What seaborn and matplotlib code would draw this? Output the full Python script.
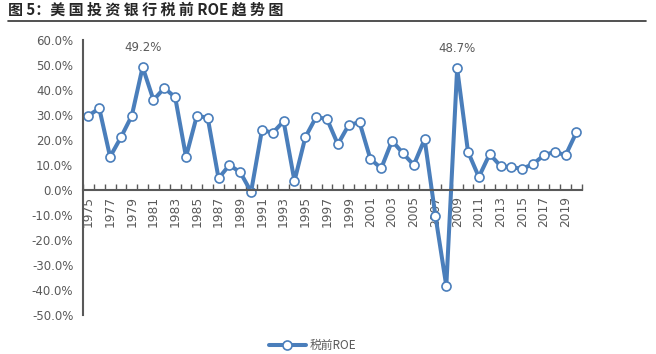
import numpy as np
import pandas as pd
import matplotlib
matplotlib.use("Agg")
import matplotlib.pyplot as plt
import seaborn as sns
from matplotlib.lines import Line2D
from matplotlib.ticker import FuncFormatter, MultipleLocator

# data
years = list(range(1975, 2021))
roe = [29.7, 32.7, 13.3, 21.1, 29.7, 49.2, 36.0, 40.8, 37.1, 13.3,
       29.7, 28.9, 4.7, 10.0, 7.1, -0.7, 24.0, 22.9, 27.5, 3.6,
       21.1, 29.2, 28.4, 18.3, 26.0, 27.1, 12.4, 8.7, 19.7, 14.7,
       10.0, 20.3, -10.4, -38.4, 48.7, 15.3, 5.2, 14.4, 9.6, 9.1,
       8.5, 10.4, 13.9, 15.3, 13.9, 23.1]
labelled_years = [1980, 2009]
series_name = "税前ROE"
title = "图 5：美 国 投 资 银 行 税 前 ROE 趋 势 图"

df = pd.DataFrame({"year": years, "roe": np.array(roe) / 100})

sns.set_style("white")
plt.rcParams["font.family"] = ["DejaVu Sans", "Noto Sans CJK SC"]

blue = "#4A7EBB"
grey = "#595959"

fig = plt.figure(figsize=(6.56, 3.54), dpi=100)
ax = fig.add_axes([0.1265, 0.110, 0.7605, 0.777])

sns.lineplot(data=df, x="year", y="roe", ax=ax, color=blue, linewidth=2.9,
             marker="o", markersize=6.5, markerfacecolor="white",
             markeredgecolor=blue, markeredgewidth=1.2, label=series_name)

ax.set_xlim(years[0] - 0.5, years[-1] + 0.5)
ax.set_ylim(-0.5, 0.6)
ax.yaxis.set_major_locator(MultipleLocator(0.1))
ax.yaxis.set_major_formatter(FuncFormatter(lambda v, p: f"{v * 100:.1f}%"))
ax.tick_params(axis="y", direction="out", length=4, width=1, color=grey,
               labelsize=8.5, labelcolor=grey, pad=3)

ax.set_xticks(years[::2])
ax.set_xticks(np.arange(years[0] - 0.5, years[-1] + 1.0, 1.0), minor=True)
ax.tick_params(axis="x", which="major", length=0, labelsize=8.8,
               labelcolor=grey, pad=4, labelrotation=90)
ax.tick_params(axis="x", which="minor", direction="in", length=4, width=1,
               color=grey, bottom=True)
for lab in ax.get_xticklabels():
    lab.set_va("top")
    lab.set_ha("center")

ax.spines["bottom"].set_position(("data", 0))
for s in ["top", "right"]:
    ax.spines[s].set_visible(False)
ax.spines["left"].set_color(grey)
ax.spines["bottom"].set_color(grey)
ax.spines["left"].set_linewidth(1.5)
ax.spines["bottom"].set_linewidth(1.5)
ax.set_xlabel("")
ax.set_ylabel("")

for y in labelled_years:
    v = roe[years.index(y)]
    ax.annotate(f"{v:.1f}%", xy=(y, v / 100), xytext=(0, 14),
                textcoords="offset points", ha="center", va="center",
                fontsize=8.5, color=grey)

leg = ax.legend(loc="center", bbox_to_anchor=(0.46, -0.11), frameon=False,
                fontsize=8.5, handlelength=3.2, handletextpad=0.3)
for t in leg.get_texts():
    t.set_color(grey)
    t.set_family(["Noto Sans CJK SC", "DejaVu Sans"])

fig.text(0.012, 0.972, title, fontsize=10.8, fontweight="heavy",
         ha="left", va="center", family=["Noto Sans CJK SC", "DejaVu Sans"])
fig.add_artist(Line2D([0.012, 0.985], [0.942, 0.942], color="#333333",
                      linewidth=1.2, transform=fig.transFigure))

fig.savefig("out.png", dpi=100)
